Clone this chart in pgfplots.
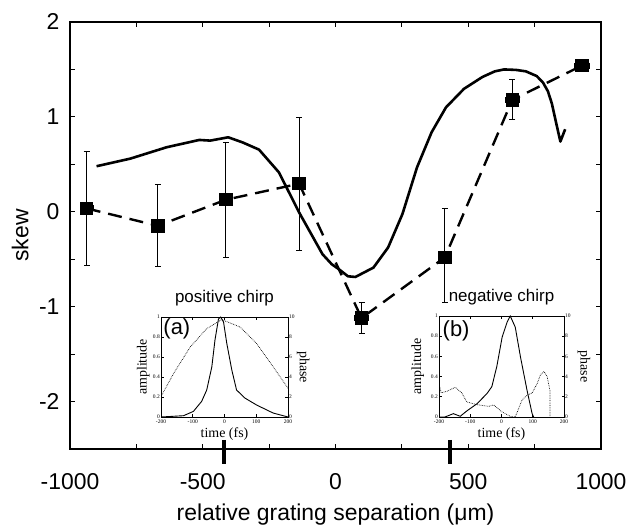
\documentclass[border=0pt]{standalone}
\usepackage{fontspec}
\setmainfont{Liberation Sans}
\newfontfamily\timesf{Liberation Serif}
\usepackage{pgfplots}
\pgfplotsset{compat=1.18}
\begin{document}
\begin{tikzpicture}
\pgfplotsset{
  inset/.style={
    scale only axis, anchor=south west,
    xmin=-200, xmax=200,
    axis line style={line width=0.7bp},
    tick style={black, line width=0.6bp},
    major tick length=2.5bp, tick align=inside,
    ticklabel style={font=\timesf\fontsize{5.5}{6.5}\selectfont, inner sep=1bp},
    xticklabel style={yshift=-1.5bp},
    label style={font=\timesf\fontsize{14}{16}\selectfont},
    title style={font=\fontsize{17}{20}\selectfont, at={(axis description cs:0.5,1)}, anchor=center, yshift=12.5bp},
  }
}
\begin{axis}[name=main, at={(0,0)}, anchor=south west,
  scale only axis, width=531bp, height=427bp,
  xmin=-1000, xmax=1000, ymin=-2.5, ymax=2,
  clip=false,
  axis line style={line width=1.1bp},
  tick style={black, line width=1bp},
  major tick length=5bp, minor tick length=5bp,
  tick align=inside,
  xtick={-1000,-500,0,500,1000}, xticklabels={-1000,-500,0,500,1000},
  minor xtick={-750,-250,250,750},
  ytick={-2,-1,0,1,2}, yticklabels={-2,-1,0,1,2},
  minor ytick={-1.5,-0.5,0.5,1.5},
  ticklabel style={font=\fontsize{23}{27}\selectfont},
  xticklabel style={anchor=center, yshift=-33bp},
  yticklabel style={anchor=east, xshift=-7bp},
  xlabel={relative grating separation (μm)},
  ylabel={skew},
  label style={font=\fontsize{23}{27}\selectfont},
  xlabel style={at={(axis description cs:0.5,-0.1546)}, anchor=center},
  ylabel style={at={(axis description cs:-0.094,0.5)}, anchor=center},
]
% theory curve
\addplot[black, line width=2.6bp, line join=round] coordinates {
(-900,0.48) (-773,0.56) (-636,0.68) (-513,0.757) (-472,0.75) (-404,0.785)
(-349,0.73) (-288,0.655) (-213,0.415) (-137,-0.007) (-49,-0.447) (-14,-0.553)
(13,-0.606) (47,-0.68) (75,-0.687) (143,-0.588) (198,-0.377) (252,-0.025)
(307,0.468) (362,0.838) (416,1.10) (484,1.296) (553,1.42) (600,1.48) (635,1.50)
(680,1.495) (717,1.48) (758,1.43) (782,1.36) (800,1.27) (815,1.14) (830,0.95) (847,0.74) (865,0.87)
};
% measured data
\addplot[black, line width=2.4bp, dash pattern=on 14bp off 8bp,
  mark=square*, mark size=5.5bp, mark options={solid, fill=black},
  error bars/.cd, x dir=both, x explicit, y dir=both, y explicit,
  error bar style={solid, line width=0.8bp, black},
  error mark options={solid, rotate=90, mark size=3bp, line width=0.8bp, black},
] table[x=x, y=y, x error=ex, y error plus=ep, y error minus=em] {
x y ex ep em
-937 0.035 25 0.60 0.60
-669 -0.148 25 0.44 0.43
-413 0.127 25 0.60 0.61
-137 0.296 25 0.70 0.70
98 -1.12 25 0.17 0.16
412 -0.48 25 0.52 0.48
666 1.18 25 0.22 0.21
928 1.54 30 0 0
};
% thick markers on the x axis
\addplot[black, line width=4bp] coordinates {(-420,-2.405) (-420,-2.657)};
\addplot[black, line width=4bp] coordinates {(430,-2.405) (430,-2.657)};
\end{axis}

% ---------- inset (a) ----------
\begin{axis}[inset, at={(91bp,32bp)}, width=127bp, height=100bp,
  ymin=0, ymax=1, ytick pos=left,
  xtick={-200,-100,0,100,200}, xticklabels={-200,-100,0,100,200},
  ytick={0,0.2,0.4,0.6,0.8,1}, yticklabels={0,0.2,0.4,0.6,0.8,1},
  xlabel={time (fs)}, ylabel={amplitude},
  xlabel style={at={(axis description cs:0.5,-0.17)}, anchor=center},
  ylabel style={at={(axis description cs:-0.14,0.5)}, anchor=center},
  title={positive chirp},
]
\addplot[black, line width=0.9bp] coordinates {
(-200,0) (-129,0.013) (-98,0.056) (-72,0.156) (-56,0.27) (-40,0.50) (-30,0.77)
(-19,0.98) (-12,1.0) (-3,0.95) (7,0.74) (23,0.47) (38,0.27) (64,0.19)
(101,0.12) (153,0.04) (200,0)
};
\node[font=\fontsize{22}{26}\selectfont, anchor=north west, inner sep=1bp] at (rel axis cs:0.01,1.0) {(a)};
\end{axis}
\begin{axis}[inset, at={(91bp,32bp)}, width=127bp, height=100bp,
  ymin=0, ymax=10, hide x axis, axis y line*=right,
  ytick={0,2,4,6,8,10}, yticklabels={0,2,4,6,8,10},
  ylabel={phase},
  ylabel style={at={(axis description cs:1.12,0.5)}, anchor=center, rotate=180},
]
\addplot[black, line width=0.7bp, densely dotted] coordinates {
(-200,2.05) (-160,4.37) (-108,7.0) (-56,8.84) (-9,9.74) (49,9.0) (101,7.35)
(153,5.03) (200,2.88)
};
\end{axis}

% ---------- inset (b) ----------
\begin{axis}[inset, at={(369bp,32bp)}, width=125bp, height=101bp,
  ymin=0, ymax=1, ytick pos=left,
  xtick={-200,-100,0,100,200}, xticklabels={-200,-100,0,100,200},
  ytick={0,0.2,0.4,0.6,0.8,1}, yticklabels={0,0.2,0.4,0.6,0.8,1},
  xlabel={time (fs)}, ylabel={amplitude},
  xlabel style={at={(axis description cs:0.5,-0.17)}, anchor=center},
  ylabel style={at={(axis description cs:-0.17,0.5)}, anchor=center},
  title={negative chirp},
]
\addplot[black, line width=0.9bp] coordinates {
(-200,0) (-181,0) (-154,0.033) (-132,0.007) (-111,0.06) (-79,0.13) (-47,0.23)
(-31,0.30) (-15,0.50) (2,0.79) (18,0.94) (28,1.0) (44,0.89) (61,0.59)
(82,0.26) (98,0.033) (103,0)
};
\node[font=\fontsize{22}{26}\selectfont, anchor=north west, inner sep=1bp] at (rel axis cs:0.02,0.97) {(b)};
\end{axis}
\begin{axis}[inset, at={(369bp,32bp)}, width=125bp, height=101bp,
  ymin=0, ymax=10, hide x axis, axis y line*=right,
  ytick={0,2,4,6,8,10}, yticklabels={0,2,4,6,8,10},
  ylabel={phase},
  ylabel style={at={(axis description cs:1.16,0.5)}, anchor=center, rotate=180},
]
\addplot[black, line width=0.7bp, densely dotted] coordinates {
(-200,3.3) (-193,2.4) (-175,2.54) (-148,2.94) (-127,2.38) (-111,1.49) (-79,1.22)
(-41,1.06) (-25,1.19) (2,0.5) (28,0.07) (44,0) (66,1.7) (82,2.15) (98,2.38)
(114,3.3) (125,4.2) (136,4.5) (146,4.0) (155,2.64) (155,0)
};
\end{axis}

\pgfresetboundingbox
\path (-70bp,-80bp) rectangle (561bp,449bp);
\end{tikzpicture}
\end{document}
